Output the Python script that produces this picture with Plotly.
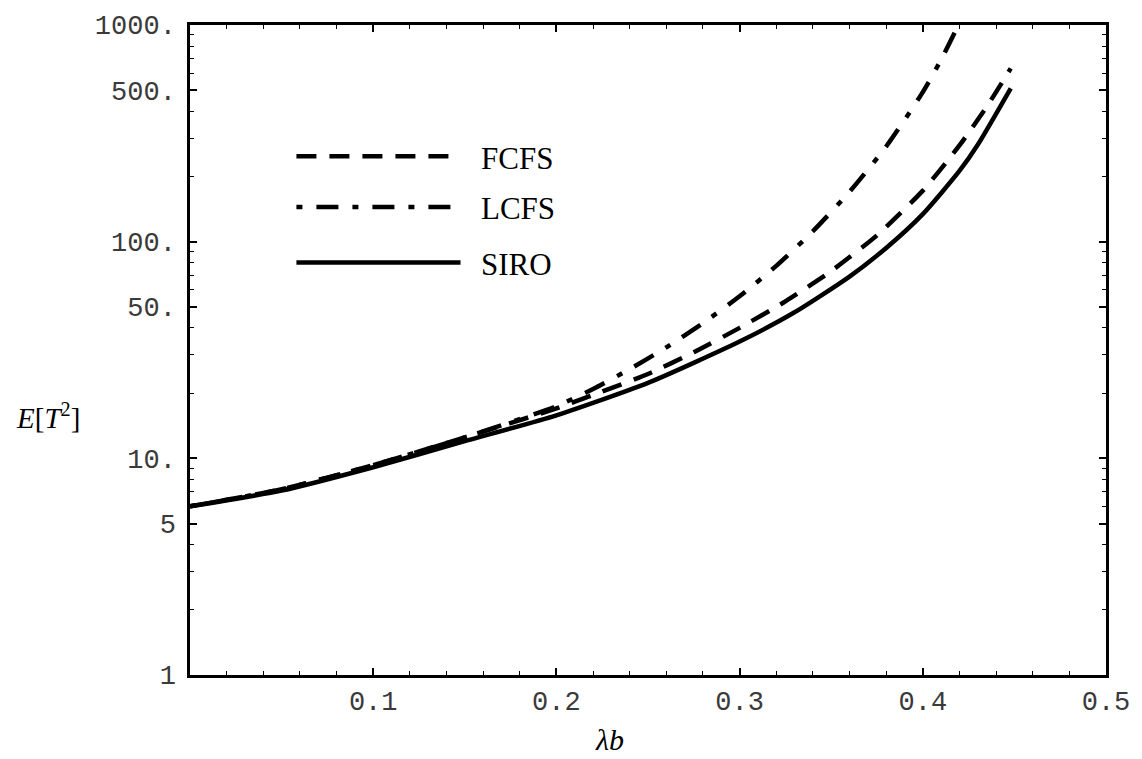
import plotly.graph_objects as go

# Second moment of sojourn time E[T^2] versus load λb for three disciplines
lam_fcfs = [0.0, 0.05, 0.1, 0.15, 0.2, 0.22, 0.25, 0.275, 0.3, 0.325, 0.35,
            0.375, 0.4, 0.42, 0.435, 0.448]
fcfs = [6.0, 7.2, 9.3, 12.5, 17.0, 19.6, 24.5, 30.9, 40.0, 53.0, 73.2,
        107.0, 172.0, 278.0, 421.0, 631.0]

lam_lcfs = [0.0, 0.05, 0.1, 0.15, 0.2, 0.22, 0.24, 0.26, 0.28, 0.3, 0.32,
            0.34, 0.36, 0.38, 0.4, 0.41, 0.42]
lcfs = [6.0, 7.2, 9.3, 12.5, 17.4, 20.9, 25.8, 32.5, 42.1, 56.0, 77.3,
        111.7, 170.0, 275.0, 490.0, 692.0, 1023.0]

lam_siro = [0.0, 0.05, 0.1, 0.15, 0.2, 0.25, 0.3, 0.33, 0.36, 0.38, 0.4,
            0.42, 0.43, 0.448]
siro = [6.0, 7.1, 9.1, 12.0, 15.8, 22.3, 34.6, 47.2, 69.0, 93.5, 134.0,
        212.0, 280.0, 510.0]

x_ticks = [0.1, 0.2, 0.3, 0.4, 0.5]
x_ticktext = ["0.1", "0.2", "0.3", "0.4", "0.5"]
y_ticks = [1, 5, 10, 50, 100, 500, 1000]
y_ticktext = ["1", "5", "10.", "50.", "100.", "500.", "1000."]
series_names = ["FCFS", "LCFS", "SIRO"]

W, H = 1142, 759
ML, MR, MT, MB = 190, 31, 21, 84

DASH_F = "20px,13px"
DASH_L = "6px,14px,22px,14px"

fig = go.Figure()
fig.add_trace(go.Scatter(x=lam_fcfs, y=fcfs, mode="lines",
                         line=dict(color="black", width=4.5, dash=DASH_F, shape="spline", smoothing=0.6)))
fig.add_trace(go.Scatter(x=lam_lcfs, y=lcfs, mode="lines",
                         line=dict(color="black", width=4.5, dash=DASH_L, shape="spline", smoothing=0.6)))
fig.add_trace(go.Scatter(x=lam_siro, y=siro, mode="lines",
                         line=dict(color="black", width=4.5, shape="spline", smoothing=0.6)))

tick_font = dict(family="Liberation Mono, Courier New, monospace", size=27, color="#3a3a3a")

fig.update_xaxes(range=[0, 0.5], tickmode="array", tickvals=x_ticks, ticktext=x_ticktext,
                 ticks="inside", ticklen=7, tickwidth=1.6, tickcolor="black",
                 showline=True, linewidth=2.5, linecolor="black", mirror="allticks",
                 showgrid=False, zeroline=False, tickfont=tick_font,
                 minor=dict(tickvals=[0.02, 0.04, 0.06, 0.08, 0.12, 0.14, 0.16, 0.18,
                                      0.22, 0.24, 0.26, 0.28, 0.32, 0.34, 0.36, 0.38,
                                      0.42, 0.44, 0.46, 0.48],
                            ticks="inside", ticklen=4, tickwidth=1.2, tickcolor="black", showgrid=False))

y_minor = [m * d for d in (1, 10, 100) for m in (2, 3, 4, 6, 7, 8, 9)]
fig.update_yaxes(type="log", range=[0, 3], tickmode="array", tickvals=y_ticks, ticktext=y_ticktext,
                 ticks="inside", ticklen=7, tickwidth=1.6, tickcolor="black",
                 showline=True, linewidth=2.5, linecolor="black", mirror="allticks",
                 showgrid=False, zeroline=False, tickfont=tick_font, ticklabelstandoff=6,
                 minor=dict(tickvals=y_minor, ticks="inside", ticklen=4, tickwidth=1.2,
                            tickcolor="black", showgrid=False))


def px_to_paper(px, py):
    return (px - ML) / (W - ML - MR), (H - MB - py) / (H - MT - MB)


# Key: line samples drawn as shapes, names as text
legend_rows = [(153, DASH_F), (204, DASH_L), (260, "solid")]
shapes = []
annotations = []
for (py, dash), name in zip(legend_rows, series_names):
    x0, y0 = px_to_paper(297, py)
    x1, _ = px_to_paper(462, py)
    shapes.append(dict(type="line", xref="paper", yref="paper", x0=x0, x1=x1, y0=y0, y1=y0,
                       line=dict(color="black", width=4.5, dash=dash)))
    tx, ty = px_to_paper(481, py + 2)
    annotations.append(dict(x=tx, y=ty, xref="paper", yref="paper", text=name, showarrow=False,
                            xanchor="left", yanchor="middle",
                            font=dict(family="Liberation Serif, Times New Roman, serif", size=31, color="black")))

# Axis titles
ax, ay = px_to_paper(47, 414)
annotations.append(dict(x=ax, y=ay, xref="paper", yref="paper", text="<i>E</i>[<i>T</i><sup>2</sup>]",
                        showarrow=False, xanchor="center", yanchor="middle",
                        font=dict(family="Liberation Serif, Times New Roman, serif", size=29, color="black")))
bx, by = px_to_paper(612, 740)
annotations.append(dict(x=bx, y=by, xref="paper", yref="paper", text="<i>λb</i>",
                        showarrow=False, xanchor="center", yanchor="middle",
                        font=dict(family="Liberation Serif, Times New Roman, serif", size=30, color="black")))

fig.update_layout(width=W, height=H, margin=dict(l=ML, r=MR, t=MT, b=MB),
                  paper_bgcolor="white", plot_bgcolor="white", showlegend=False,
                  shapes=shapes, annotations=annotations)

fig.write_html("out.html")
